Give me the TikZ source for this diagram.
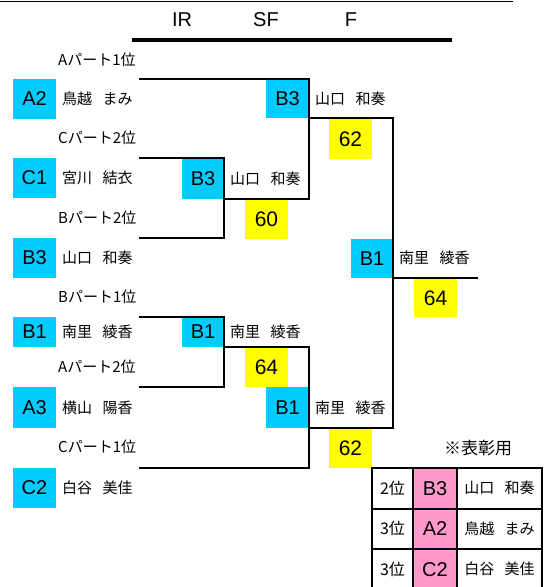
\documentclass[tikz,border=0pt]{standalone}
\usepackage{fontspec}
\setmainfont{Noto Sans CJK JP}
\newfontfamily\latinfont{Liberation Sans}
\usetikzlibrary{positioning,calc}

\definecolor{seedcyan}{RGB}{0,204,255}
\definecolor{scoreyellow}{RGB}{255,255,0}
\definecolor{awardpink}{RGB}{255,153,204}
\newcommand{\namegap}{\hspace{.7em}}

\begin{document}
\begin{tikzpicture}
	% Styles
	[
	x=1pt, y=-1pt,
	seed/.style={fill=seedcyan, inner sep=0pt, outer sep=0pt, minimum width=43pt, font=\latinfont\fontsize{20}{20}\selectfont},
	score/.style={fill=scoreyellow, inner sep=0pt, outer sep=0pt, minimum width=43pt, minimum height=40pt, font=\latinfont\fontsize{21}{21}\selectfont},
	player/.style={anchor=west, inner sep=0pt, font=\fontsize{15}{15}\selectfont},
	slot/.style={anchor=west, inner sep=0pt, font=\fontsize{15}{15}\selectfont},
	round/.style={font=\latinfont\fontsize{20}{20}\selectfont},
	line/.style={line width=2pt},
	cell/.style={draw, line width=2pt, inner sep=0pt, outer sep=0pt, minimum height=40.5pt, font=\fontsize{16}{16}\selectfont},
	]
	\useasboundingbox (0,0) rectangle (552,587);

	% Header
	\draw[line width=.8pt] (0,1) -- (513,1);
	\node at (182,20)	(hIR)	[round] {IR};
	\node at (266,20)	(hSF)	[round] {SF};
	\node at (351,20)	(hF)	[round] {F};
	\draw[line width=3.5pt] (132,40) -- (452,40);

	% Draw slots
	\node at (58,60)	(lA1)	[slot] {Aパート1位};
	\node at (58,138)	(lC2)	[slot] {Cパート2位};
	\node at (58,218)	(lB2)	[slot] {Bパート2位};
	\node at (58,297)	(lB1)	[slot] {Bパート1位};
	\node at (58,367)	(lA2)	[slot] {Aパート2位};
	\node at (58,447)	(lC1)	[slot] {Cパート1位};

	% Entrants
	\node at (34.5,99)	(sA2)	[seed, minimum height=40pt] {A2};
	\node at (34.5,178)	(sC1)	[seed, minimum height=40pt] {C1};
	\node at (34.5,258)	(sB3)	[seed, minimum height=40pt] {B3};
	\node at (34.5,332)	(sB1)	[seed, minimum height=30pt] {B1};
	\node at (34.5,407.5)	(sA3)	[seed, minimum height=41pt] {A3};
	\node at (34.5,488)	(sC2)	[seed, minimum height=40pt] {C2};
	\node at (62,99)	(nA2)	[player] {鳥越\namegap まみ};
	\node at (62,178)	(nC1)	[player] {宮川\namegap 結衣};
	\node at (62,258)	(nB3)	[player] {山口\namegap 和奏};
	\node at (62,332)	(nB1)	[player] {南里\namegap 綾香};
	\node at (62,408)	(nA3)	[player] {横山\namegap 陽香};
	\node at (62,488)	(nC2)	[player] {白谷\namegap 美佳};

	\coordinate (e1) at (139,79);
	\coordinate (e2) at (139,158);
	\coordinate (e3) at (139,238);
	\coordinate (e4) at (139,317);
	\coordinate (e5) at (139,387);
	\coordinate (e6) at (139,468);

	% IR
	\node at (203,179)	(irB3)	[seed, minimum width=42pt, minimum height=40pt] {B3};
	\node at (230,179)	(irnB3)	[player] {山口\namegap 和奏};
	\node at (266.5,219)	(irS1)	[score] {60};
	\node at (203,332)	(irB1)	[seed, minimum width=42pt, minimum height=30pt] {B1};
	\node at (230,332)	(irnB1)	[player] {南里\namegap 綾香};
	\node at (266.5,367)	(irS2)	[score] {64};

	% SF
	\node at (287.5,99)	(sfB3)	[seed, minimum height=38pt] {B3};
	\node at (315,99)	(sfnB3)	[player] {山口\namegap 和奏};
	\node at (350.5,139)	(sfS1)	[score] {62};
	\node at (287.5,407.5)	(sfB1)	[seed, minimum height=41pt] {B1};
	\node at (315,408)	(sfnB1)	[player] {南里\namegap 綾香};
	\node at (350.5,448)	(sfS2)	[score] {62};

	% F
	\node at (372,258.5)	(fB1)	[seed, minimum width=42pt, minimum height=39pt] {B1};
	\node at (399,258)	(fnB1)	[player] {南里\namegap 綾香};
	\node at (435.5,298)	(fS)	[score, minimum height=38pt] {64};
	\coordinate (champ) at (478,278);

	% Connections
	\draw[line] (e2) -- (e2 -| irB3.east) -- (e3 -| irB3.east) -- (e3);
	\draw[line] (e4) -- (e4 -| irB1.east) -- (e5 -| irB1.east) -- (e5);
	\draw[line] (e1) -| (sfB3.east |- irB3.south) -- (irB3.south east);
	\draw[line] (e6) -| (sfB1.east |- irB1.south) -- (irB1.south east);
	\draw[line] (sfB3.south east) -| (fB1.east |- sfB1.south) -- (sfB1.south east);
	\draw[line] (fB1.south east) -- (champ);

	% Award table
	\node at (478,448)	(award)	[font=\fontsize{17}{17}\selectfont] {※表彰用};
	\foreach \rk/\cd/\nm [count=\i] in {2位/B3/山口\namegap 和奏, 3位/A2/鳥越\namegap まみ, 3位/C2/白谷\namegap 美佳} {
		\node at (392.5,447.75+40.5*\i)	(rank\i)	[cell, minimum width=41pt] {\rk};
		\node at (435,447.75+40.5*\i)	(code\i)	[cell, minimum width=44pt, fill=awardpink, font=\latinfont\fontsize{20}{20}\selectfont] {\cd};
		\node at (499.5,447.75+40.5*\i)	(name\i)	[cell, minimum width=85pt, font=\fontsize{15}{15}\selectfont] {\nm};
	}

\end{tikzpicture}
\end{document}
